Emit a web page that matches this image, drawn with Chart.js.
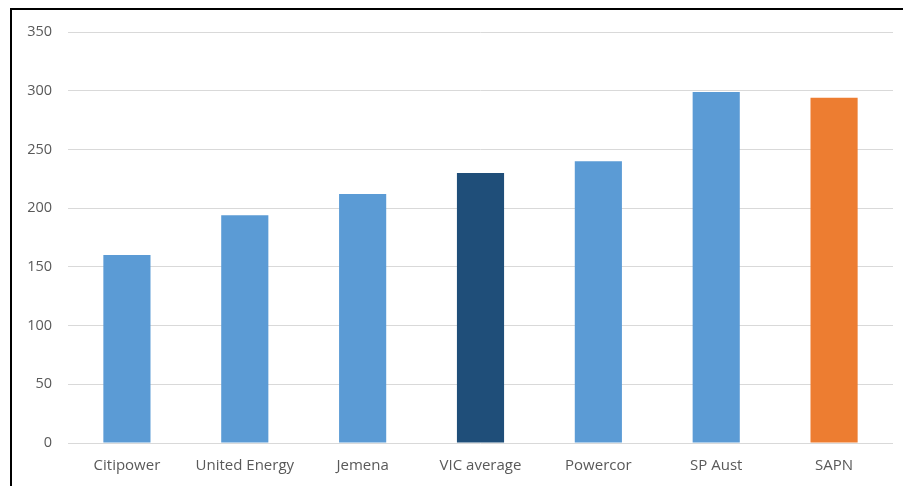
<!DOCTYPE html>
<html>
<head>
<meta charset="utf-8">
<script src="https://cdn.jsdelivr.net/npm/chart.js@4.4.0/dist/chart.umd.min.js"></script>
<style>
  html, body { margin: 0; padding: 0; background: #fff; }
  #wrap { position: relative; width: 903px; height: 486px; overflow: hidden; }
  #frame { position: absolute; left: 10px; top: 8px; width: 1000px; height: 600px;
           border-left: 2px solid #000; border-top: 2px solid #000; pointer-events: none; }
  canvas { position: absolute; left: 0; top: 0; }
</style>
</head>
<body>
<div id="wrap">
  <canvas id="c" width="903" height="486"></canvas>
  <div id="frame"></div>
</div>
<script>
const categories = ["Citipower", "United Energy", "Jemena", "VIC average", "Powercor", "SP Aust", "SAPN"];
const values = [160, 194, 212, 230, 240, 299, 294];
const yTicks = [0, 50, 100, 150, 200, 250, 300, 350];

const BLUE = "#5B9BD5", NAVY = "#1F4E79", ORANGE = "#ED7D31";
const barColors = categories.map(c => c === "VIC average" ? NAVY : (c === "SAPN" ? ORANGE : BLUE));

new Chart(document.getElementById("c"), {
  type: "bar",
  data: {
    labels: categories,
    datasets: [{
      data: values,
      backgroundColor: barColors,
      borderWidth: 0,
      barPercentage: 0.4,
      categoryPercentage: 1.0
    }]
  },
  options: {
    responsive: false,
    animation: false,
    layout: { padding: { left: 0, right: 10, top: 32, bottom: 0 } },
    plugins: { legend: { display: false }, tooltip: { enabled: false } },
    scales: {
      x: {
        grid: { display: false, drawTicks: false },
        border: { display: false },
        ticks: { color: "#595959", font: { family: "Open Sans", size: 15 }, padding: 14, maxRotation: 0, autoSkip: false },
        afterFit: s => { s.height = 43; }
      },
      y: {
        min: 0, max: 350,
        afterBuildTicks: s => { s.ticks = yTicks.map(v => ({ value: v })); },
        grid: { color: "#d9d9d9", lineWidth: 1, drawTicks: false },
        border: { display: false },
        ticks: { color: "#595959", font: { family: "Open Sans", size: 14.5 }, padding: 16 },
        afterFit: s => { s.width = 68; }
      }
    }
  }
});
</script>
</body>
</html>
